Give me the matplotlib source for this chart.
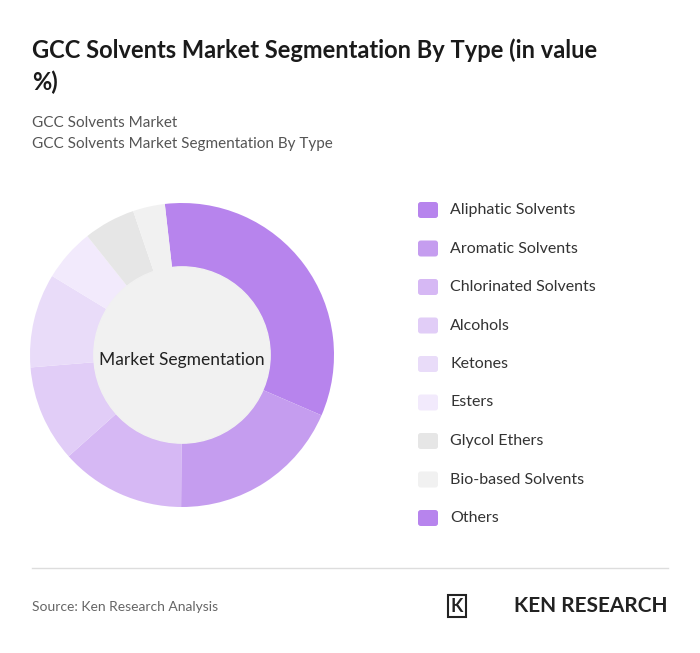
import matplotlib.pyplot as plt
from matplotlib.patches import Circle, FancyBboxPatch

plt.rcParams["font.family"] = ["Lato", "DejaVu Sans"]

categories = ["Aliphatic Solvents", "Aromatic Solvents", "Chlorinated Solvents", "Alcohols",
              "Ketones", "Esters", "Glycol Ethers", "Bio-based Solvents", "Others"]
values = [33.3, 18.6, 13.3, 10.3, 10.0, 5.6, 5.5, 3.4, 0.0]
colors = ["#b784ed", "#c59def", "#d6b8f4", "#e1cdf7", "#e9dcf9", "#f2eafc",
          "#e6e6e6", "#f1f1f1", "#b784ed"]

W, H = 700, 653
fig = plt.figure(figsize=(7, 6.53), dpi=100)
fig.patch.set_facecolor("white")

fig.text(32 / W, 1 - 50 / H, "GCC Solvents Market Segmentation By Type (in value", fontsize=17,
         fontweight="bold", color="#1a1a1a", va="center")
fig.text(32 / W, 1 - 82 / H, "%)", fontsize=17, fontweight="bold", color="#1a1a1a", va="center")
fig.text(32 / W, 1 - 123 / H, "GCC Solvents Market", fontsize=11, color="#555555", va="center")
fig.text(32 / W, 1 - 144 / H, "GCC Solvents Market Segmentation By Type", fontsize=11,
         color="#555555", va="center")

# donut
cx, cy, r = 182, 355, 152
ax = fig.add_axes([(cx - r) / W, 1 - (cy + r) / H, 2 * r / W, 2 * r / H])
ax.pie(values, colors=colors, startangle=96.5, counterclock=False,
       wedgeprops=dict(width=1.0, edgecolor="none"))
ax.add_patch(Circle((0, 0.0), 0.58, color="#f1f1f1", zorder=5))
ax.text(0, -0.03, "Market Segmentation", ha="center", va="center", fontsize=12.5,
        color="#222222", zorder=6)
ax.set_xlim(-1, 1)
ax.set_ylim(-1, 1)
ax.set_aspect("equal")
ax.axis("off")

# legend
for i, (cat, col) in enumerate(zip(categories, colors)):
    y = 210 + i * 38.5
    fig.patches.append(FancyBboxPatch((418 / W, 1 - (y + 8) / H), 20 / W, 16 / H,
                                      boxstyle="round,pad=0,rounding_size=0.004",
                                      transform=fig.transFigure, facecolor=col,
                                      edgecolor="none"))
    fig.text(450 / W, 1 - y / H, cat, fontsize=11.5, color="#333333", va="center")

fig.add_artist(plt.Line2D([32 / W, 668 / W], [1 - 568 / H] * 2, color="#dddddd", lw=1))
fig.text(32 / W, 1 - 607 / H, "Source: Ken Research Analysis", fontsize=10, color="#666666",
         va="center")
fig.text(668 / W, 1 - 606 / H, "KEN RESEARCH", fontsize=15, fontweight="bold",
         color="#222222", va="center", ha="right")
fig.text(451 / W, 1 - 606 / H, "K", fontsize=13, fontweight="bold", color="#222222", va="center",
         bbox=dict(boxstyle="square,pad=0.15", fc="white", ec="#222222", lw=1.5))

fig.savefig("out.png", dpi=100)
